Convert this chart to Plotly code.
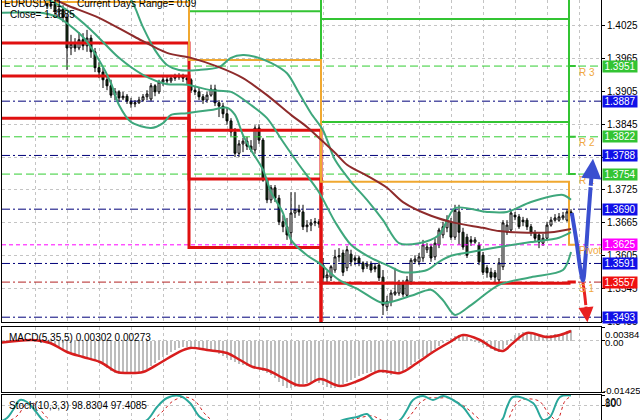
import plotly.graph_objects as go

# ---------------- data ----------------
bar_idx = list(range(11, 143))
open_ = [1.4068,1.4061,1.4064,1.4050,1.4055,1.4040,1.3984,1.3991,1.3984,1.3999,1.3988,1.4002,1.3977,1.3948,1.3940,1.3926,1.3915,1.3898,1.3904,1.3893,
         1.3896,1.3887,1.3882,1.3884,1.3889,1.3895,1.3891,1.3915,1.3904,1.3922,1.3926,1.3924,1.3929,1.3931,1.3933,1.3929,1.3926,1.3907,1.3904,1.3895,
         1.3889,1.3898,1.3909,1.3884,1.3878,1.3864,1.3851,1.3831,1.3792,1.3809,1.3814,1.3805,1.3798,1.3838,1.3816,1.3743,1.3707,1.3729,1.3710,1.3667,
         1.3658,1.3647,1.3683,1.3689,1.3685,1.3658,1.3661,1.3665,1.3667,1.3588,1.3565,1.3566,1.3579,1.3603,1.3610,1.3583,1.3608,1.3601,1.3601,1.3592,
         1.3586,1.3590,1.3585,1.3588,1.3566,1.3512,1.3521,1.3535,1.3537,1.3555,1.3533,1.3557,1.3595,1.3594,1.3601,1.3616,1.3621,1.3603,1.3625,1.3643,
         1.3656,1.3667,1.3639,1.3685,1.3648,1.3639,1.3634,1.3630,1.3625,1.3606,1.3583,1.3575,1.3574,1.3561,1.3585,1.3648,1.3652,1.3679,1.3676,1.3670,
         1.3670,1.3658,1.3647,1.3643,1.3628,1.3637,1.3661,1.3670,1.3670,1.3674,1.3670,1.3685]
high_ = [1.4071,1.4070,1.4068,1.4062,1.4062,1.4046,1.4008,1.4002,1.4013,1.4011,1.4017,1.4008,1.3984,1.3958,1.3948,1.3935,1.3926,1.3911,1.3907,1.3904,
         1.3900,1.3893,1.3889,1.3895,1.3900,1.3907,1.3920,1.3918,1.3926,1.3931,1.3931,1.3935,1.3937,1.3938,1.3937,1.3933,1.3929,1.3915,1.3911,1.3900,
         1.3904,1.3917,1.3917,1.3889,1.3884,1.3875,1.3856,1.3838,1.3816,1.3820,1.3822,1.3816,1.3843,1.3845,1.3820,1.3747,1.3734,1.3734,1.3716,1.3679,
         1.3674,1.3721,1.3721,1.3698,1.3698,1.3670,1.3672,1.3674,1.3672,1.3601,1.3577,1.3588,1.3616,1.3619,1.3616,1.3623,1.3616,1.3606,1.3605,1.3595,
         1.3595,1.3595,1.3590,1.3594,1.3579,1.3532,1.3543,1.3583,1.3561,1.3561,1.3568,1.3601,1.3606,1.3610,1.3634,1.3628,1.3627,1.3637,1.3656,1.3667,
         1.3679,1.3674,1.3698,1.3698,1.3656,1.3645,1.3641,1.3639,1.3630,1.3612,1.3588,1.3583,1.3579,1.3601,1.3670,1.3670,1.3689,1.3685,1.3681,1.3676,
         1.3674,1.3663,1.3652,1.3648,1.3645,1.3667,1.3676,1.3681,1.3683,1.3685,1.3690,1.3690]
low_ = [1.4055,1.4055,1.4044,1.4039,1.4031,1.3944,1.3971,1.3977,1.3980,1.3980,1.3977,1.3966,1.3940,1.3929,1.3911,1.3907,1.3893,1.3889,1.3886,1.3889,
        1.3882,1.3875,1.3876,1.3882,1.3886,1.3889,1.3887,1.3896,1.3900,1.3915,1.3918,1.3920,1.3924,1.3926,1.3922,1.3918,1.3902,1.3898,1.3889,1.3882,
        1.3884,1.3895,1.3878,1.3858,1.3856,1.3844,1.3823,1.3785,1.3785,1.3794,1.3798,1.3794,1.3791,1.3809,1.3740,1.3701,1.3701,1.3703,1.3661,1.3648,
        1.3634,1.3625,1.3674,1.3678,1.3652,1.3648,1.3650,1.3659,1.3656,1.3557,1.3555,1.3559,1.3574,1.3594,1.3568,1.3577,1.3586,1.3588,1.3586,1.3575,
        1.3581,1.3574,1.3575,1.3559,1.3497,1.3504,1.3513,1.3532,1.3532,1.3530,1.3528,1.3552,1.3590,1.3588,1.3594,1.3610,1.3594,1.3597,1.3619,1.3637,
        1.3648,1.3634,1.3634,1.3625,1.3616,1.3601,1.3623,1.3627,1.3588,1.3570,1.3565,1.3561,1.3557,1.3555,1.3579,1.3643,1.3648,1.3670,1.3654,1.3659,
        1.3652,1.3641,1.3632,1.3619,1.3623,1.3634,1.3658,1.3667,1.3667,1.3670,1.3667,1.3678]
close_ = [1.4061,1.4064,1.4050,1.4055,1.4040,1.3984,1.3991,1.3984,1.3999,1.3988,1.4002,1.3977,1.3948,1.3940,1.3926,1.3915,1.3898,1.3904,1.3893,1.3896,
          1.3887,1.3882,1.3884,1.3889,1.3895,1.3900,1.3915,1.3904,1.3922,1.3926,1.3924,1.3929,1.3931,1.3933,1.3929,1.3926,1.3907,1.3904,1.3895,1.3889,
          1.3898,1.3909,1.3884,1.3878,1.3864,1.3851,1.3831,1.3792,1.3809,1.3814,1.3805,1.3798,1.3838,1.3816,1.3743,1.3707,1.3729,1.3710,1.3667,1.3658,
          1.3643,1.3683,1.3689,1.3685,1.3658,1.3661,1.3665,1.3667,1.3663,1.3565,1.3570,1.3585,1.3603,1.3605,1.3575,1.3616,1.3594,1.3597,1.3592,1.3581,
          1.3590,1.3579,1.3581,1.3565,1.3515,1.3522,1.3537,1.3539,1.3555,1.3535,1.3561,1.3597,1.3599,1.3603,1.3625,1.3621,1.3601,1.3628,1.3652,1.3658,
          1.3670,1.3639,1.3688,1.3648,1.3621,1.3606,1.3630,1.3634,1.3594,1.3575,1.3574,1.3566,1.3566,1.3592,1.3665,1.3661,1.3683,1.3676,1.3658,1.3667,
          1.3658,1.3647,1.3637,1.3630,1.3637,1.3661,1.3670,1.3674,1.3676,1.3678,1.3685,1.3681]

bb_upper_x = [29,32,35,38,41,44,49,54,57,60,63,67,71,74,77,80,83,87,91,95,99,104,109,113,121,126,132,140,142]
bb_upper_y = [1.4090,1.4072,1.4022,1.3980,1.3953,1.3944,1.3944,1.3949,1.3966,1.3971,1.3968,1.3957,1.3938,1.3902,1.3865,1.3834,
              1.3780,1.3740,1.3707,1.3670,1.3628,1.3628,1.3643,1.3692,1.3685,1.3685,1.3703,1.3716,1.3707]
bb_mid_x = [9,16,22,29,35,41,46,52,57,62,66,70,74,79,83,87,92,96,100,106,109,112,117,124,132,139,142]
bb_mid_y = [1.4081,1.4053,1.4017,1.3966,1.3935,1.3918,1.3917,1.3907,1.3904,1.3880,1.3856,1.3813,1.3771,1.3721,1.3667,1.3625,
            1.3601,1.3588,1.3575,1.3579,1.3594,1.3605,1.3612,1.3621,1.3630,1.3638,1.3648]
bb_lower_x = [-1,10,14,20,24,27,29,32,37,40,42,46,52,56,58,60,62,65,67,70,72,76,79,84,89,95,102,107,110,113,117,124,132,140,142]
bb_lower_y = [1.4048,1.4048,1.4039,1.4004,1.3962,1.3920,1.3880,1.3849,1.3838,1.3847,1.3862,1.3865,1.3871,1.3875,1.3862,1.3825,
              1.3798,1.3762,1.3721,1.3683,1.3634,1.3606,1.3592,1.3561,1.3543,1.3519,1.3532,1.3543,1.3524,1.3497,1.3515,1.3552,
              1.3566,1.3579,1.3612]
ma_x = [5,13,16,24,33,41,47,54,60,66,72,76,79,83,86,91,96,100,107,113,120,124,133,137,142]
ma_y = [1.4095,1.4072,1.4062,1.4039,1.4004,1.3975,1.3966,1.3949,1.3929,1.3898,1.3862,1.3840,1.3820,1.3793,1.3771,1.3751,1.3729,
        1.3703,1.3678,1.3665,1.3656,1.3650,1.3647,1.3648,1.3654]

# daily pivot levels (4 days), day start positions on the bar axis
day_start = [-0.25, 46.5, 79.5, 141.5, 143.2]
piv_P = [1.4068, 1.3962, 1.3740, 1.3625]
piv_R1 = [1.4125, 1.4051, 1.3849, 1.3754]
piv_R2 = [1.4190, 1.4140, 1.4037, 1.3822]
piv_R3 = [1.4250, 1.4210, 1.4160, 1.3951]
piv_S1 = [1.3993, 1.3834, 1.3555, 1.3557]
piv_S2 = [1.3933, 1.3745, 1.3420, 1.3429]
piv_S3 = [1.3856, 1.3620, 1.3290, 1.3300]

# current-day level lines (price, kind)
level_prices = [1.3951, 1.3887, 1.3822, 1.3788, 1.3754, 1.3690, 1.3625, 1.3591, 1.3557, 1.3493]
level_kinds = ["R", "M", "R", "M", "R", "M", "P", "M", "S", "M"]
level_tags = [("R 3", 1.3951), ("R 2", 1.3822), ("R 1", 1.3754), ("Pivot", 1.3625), ("S 1", 1.3557)]

price_ticks = [1.4025, 1.3965, 1.3905, 1.3845, 1.3785, 1.3725, 1.3665, 1.3605, 1.3545, 1.3485]

# projection arrows
blue_x = [142.2, 143.4, 144.4, 145.0, 145.6, 146.3, 146.9]
blue_y = [1.3683, 1.3630, 1.3578, 1.3560, 1.3600, 1.3672, 1.3730]
blue_head = (147.5, 1.3782)
red_x = [145.0, 145.4, 145.7]
red_y = [1.3556, 1.3535, 1.3515]
red_head = (146.1, 1.3484)

# MACD(5,35,5)
macd_hist = [-0.00006,-0.00006,0.00008,0.00022,0.00022,0.00022,0.00022,0.00008,-0.00006,-0.00006,
             -0.00020,-0.00033,-0.00061,-0.00117,-0.00173,-0.00228,-0.00284,-0.00340,-0.00395,-0.00451,
             -0.00479,-0.00507,-0.00534,-0.00562,-0.00618,-0.00674,-0.00757,-0.00841,-0.00896,-0.00924,
             -0.00924,-0.00924,-0.00896,-0.00896,-0.00868,-0.00841,-0.00785,-0.00701,-0.00618,-0.00534,
             -0.00451,-0.00395,-0.00312,-0.00256,-0.00200,-0.00173,-0.00173,-0.00200,-0.00200,-0.00228,
             -0.00256,-0.00256,-0.00284,-0.00312,-0.00367,-0.00423,-0.00479,-0.00534,-0.00590,-0.00646,
             -0.00674,-0.00701,-0.00729,-0.00757,-0.00785,-0.00841,-0.00896,-0.00952,-0.01035,-0.01147,
             -0.01258,-0.01314,-0.01314,-0.01286,-0.01258,-0.01203,-0.01175,-0.01147,-0.01147,-0.01175,
             -0.01230,-0.01286,-0.01314,-0.01314,-0.01258,-0.01203,-0.01147,-0.01091,-0.01035,-0.00980,
             -0.00924,-0.00896,-0.00868,-0.00868,-0.00868,-0.00896,-0.00924,-0.00952,-0.00924,-0.00896,
             -0.00841,-0.00757,-0.00674,-0.00590,-0.00507,-0.00451,-0.00395,-0.00312,-0.00228,-0.00145,
             -0.00061,0.00022,0.00078,0.00134,0.00161,0.00161,0.00106,0.00050,-0.00006,-0.00061,
             -0.00117,-0.00173,-0.00228,-0.00284,-0.00312,-0.00228,-0.00117,0.00050,0.00161,0.00217,
             0.00245,0.00245,0.00217,0.00189,0.00161,0.00134,0.00161,0.00161,0.00189,0.00189,
             0.00217,0.00273,0.00302]
macd_sig_x = [-1,7.5,11.75,16,20,24.25,28.5,31,35,39.25,43.5,46.75,51,56,59.25,62.5,66,70,73.5,76,79.25,84.25,89.25,
              94.25,99.25,103.5,107.5,111.75,115,119.25,122.5,125,127.5,131,136,139.25,142]
macd_sig_y = [-0.00061,0.00022,-0.00061,-0.00312,-0.00451,-0.00590,-0.00868,-0.00896,-0.00868,-0.00618,-0.00340,
              -0.00200,-0.00256,-0.00340,-0.00534,-0.00729,-0.00813,-0.01035,-0.01230,-0.01230,-0.01063,-0.01258,
              -0.01091,-0.00841,-0.00896,-0.00618,-0.00312,-0.00033,0.00161,0.00022,-0.00200,-0.00284,-0.00061,
              0.00217,0.00106,0.00161,0.00273]
macd_top, macd_bottom = 0.00384, -0.01425

# Stochastic(10,3,3)
stoch_main_x = [-1,1,2.5,4.25,6,7.5,9.25,10,14,24,32,36,38.5,41,44.25,46.75,49.25,52,62,74,79,85,88.5,91,92.5,96,99.25,
                101,102.5,105,107.5,110,112.5,115,117.5,121,124.75,126,127.5,132.5,135,136.75,139.25,142]
stoch_main_y = [46,54,70,90,86,74,56,50,30,20,40,50,76,94,98,84,56,45,20,15,30,50,56,62,50,40,50,70,90,98,90,98,90,76,
                50,30,50,76,96,84,50,56,96,98.83]
stoch_sig_x = [-1,2,4,5.5,7.5,9,11,15,25,33,37,40,42.5,45.5,48,50.5,53,63,75,80,86,90,92.5,94,97,100.5,102.5,104.5,
               106.5,109,111.5,114,116.5,119,122,126,127.5,129.5,134,136.5,138.5,140.5,142]
stoch_sig_y = [44,50,62,80,84,74,55,32,22,36,48,68,88,96,88,62,46,22,16,28,46,56,58,52,42,48,66,86,94,94,94,84,70,52,
               32,48,72,90,88,62,50,88,97.41]

# ---------------- layout constants (pixels) ----------------
W, H = 640, 420
X_L, X_R = 2, 601
MAIN_T, MAIN_B = 0, 322
MACD_T, MACD_B = 327, 392
ST_T, ST_B = 395, 420
XR = [-0.25, 149.5]
FONT = "Liberation Sans, Arial, sans-serif"

def py(px):
    return 1 - px / H

fig = go.Figure()

# level lines
kind_style = {"R": ("#32cd32", "8px,4px"), "M": ("#00007a", "8px,3px,2px,3px"),
              "P": ("#ff00ff", "4px,3px"), "S": ("#b22222", "8px,3px,2px,3px")}
for p, k in zip(level_prices, level_kinds):
    c, d = kind_style[k]
    fig.add_trace(go.Scatter(x=XR, y=[p, p], mode="lines", line=dict(color=c, width=1, dash=d),
                             hoverinfo="skip", xaxis="x", yaxis="y"))

# pivot step lines
for vals, col, w in [(piv_R3, "#33c433", 2), (piv_R2, "#33c433", 2), (piv_R1, "#33c433", 2),
                     (piv_S1, "#e01010", 3), (piv_S2, "#e01010", 3), (piv_S3, "#e01010", 3),
                     (piv_P, "#f0a830", 2)]:
    fig.add_trace(go.Scatter(x=day_start, y=vals + [vals[-1]], mode="lines",
                             line=dict(color=col, width=w, shape="hv"), hoverinfo="skip",
                             xaxis="x", yaxis="y"))

# bollinger bands and MA
for xs, ys in [(bb_upper_x, bb_upper_y), (bb_mid_x, bb_mid_y), (bb_lower_x, bb_lower_y)]:
    fig.add_trace(go.Scatter(x=xs, y=ys, mode="lines", line=dict(color="#3ea77c", width=2, shape="spline", smoothing=0.8),
                             hoverinfo="skip", xaxis="x", yaxis="y"))
fig.add_trace(go.Scatter(x=ma_x, y=ma_y, mode="lines", line=dict(color="#8e2b2b", width=2, shape="spline", smoothing=0.8),
                         hoverinfo="skip", xaxis="x", yaxis="y"))

# candles
fig.add_trace(go.Candlestick(x=bar_idx, open=open_, high=high_, low=low_, close=close_,
                             increasing=dict(fillcolor="#ffffff", line=dict(color="#000000", width=1)),
                             decreasing=dict(fillcolor="#1b3d1b", line=dict(color="#000000", width=1)),
                             whiskerwidth=0, xaxis="x", yaxis="y", hoverinfo="skip"))

# projection arrows
fig.add_trace(go.Scatter(x=blue_x, y=blue_y, mode="lines", line=dict(color="#3a4fd0", width=4, shape="spline"),
                         hoverinfo="skip", xaxis="x", yaxis="y"))
fig.add_trace(go.Scatter(x=red_x, y=red_y, mode="lines", line=dict(color="#e82020", width=3, shape="spline"),
                         hoverinfo="skip", xaxis="x", yaxis="y"))

# MACD
fig.add_trace(go.Bar(x=list(range(len(macd_hist))), y=macd_hist, marker=dict(color="#bdbdbd", line=dict(width=0)),
                     width=0.5, xaxis="x2", yaxis="y2", hoverinfo="skip"))
fig.add_trace(go.Scatter(x=macd_sig_x, y=macd_sig_y, mode="lines", line=dict(color="#d81e1e", width=2.5, shape="spline"),
                         hoverinfo="skip", xaxis="x2", yaxis="y2"))

# Stochastic
fig.add_trace(go.Scatter(x=stoch_sig_x, y=stoch_sig_y, mode="lines", line=dict(color="#d02020", width=1, dash="dot", shape="spline"),
                         hoverinfo="skip", xaxis="x3", yaxis="y3"))
fig.add_trace(go.Scatter(x=stoch_main_x, y=stoch_main_y, mode="lines", line=dict(color="#2aa79b", width=2, shape="spline"),
                         hoverinfo="skip", xaxis="x3", yaxis="y3"))

xdom = [X_L / W, X_R / W]
xcommon = dict(range=XR, domain=xdom, showgrid=True, gridcolor="#c4c4c4", griddash="3px,3px", gridwidth=1,
               tick0=0, dtick=8, showticklabels=False, ticks="", zeroline=False, automargin=False,
               showline=True, linecolor="#000000", linewidth=1, mirror=True, fixedrange=True)
ycommon = dict(side="right", showgrid=True, gridcolor="#c4c4c4", griddash="3px,3px", gridwidth=1, zeroline=False,
               showline=True, linecolor="#000000", linewidth=1, mirror=True, ticks="outside", ticklen=3,
               automargin=False, tickcolor="#000000", fixedrange=True)

price_lo = 1.4025 - (MAIN_B - 25.5) / 5483
price_hi = 1.4025 + 25.5 / 5483

fig.update_layout(
    width=W, height=H, margin=dict(l=0, r=0, t=0, b=0, autoexpand=False),
    paper_bgcolor="#ffffff", plot_bgcolor="#ffffff", showlegend=False,
    bargap=0,
    xaxis=dict(anchor="y", rangeslider=dict(visible=False), **xcommon),
    xaxis2=dict(anchor="y2", **xcommon),
    xaxis3=dict(anchor="y3", **xcommon),
    yaxis=dict(anchor="x", domain=[py(MAIN_B), py(MAIN_T)], range=[price_lo, price_hi],
               tickvals=price_ticks, ticktext=[f"{v:.4f}" for v in price_ticks],
               tickfont=dict(family=FONT, size=10, color="#000000"), **ycommon),
    yaxis2=dict(anchor="x2", domain=[py(MACD_B), py(MACD_T)], range=[macd_bottom, macd_top],
                tickvals=[macd_top, 0, macd_bottom], showticklabels=False, **ycommon),
    yaxis3=dict(anchor="x3", domain=[py(ST_B), py(ST_T)], range=[50, 100],
                tickvals=[100, 80], showticklabels=False, **ycommon),
)

ann = []
box_col = {"R": "#33c433", "M": "#1010e8", "P": "#ff00ff", "S": "#f01010"}
for p, k in zip(level_prices, level_kinds):
    ann.append(dict(xref="paper", yref="y", x=602 / W, y=p, xanchor="left", yanchor="middle",
                    text=f"{p:.4f}", showarrow=False, bgcolor=box_col[k], width=34, height=11, borderpad=0,
                    font=dict(family=FONT, size=10, color="#ffffff")))
for t, p in level_tags:
    ann.append(dict(xref="x", yref="y", x=143.6, y=p, xanchor="left", yanchor="middle", yshift=-6,
                    text=t, showarrow=False, font=dict(family=FONT, size=10, color="#f0a840")))
# arrow heads
ann.append(dict(xref="x", yref="y", axref="x", ayref="y", x=blue_head[0], y=blue_head[1], ax=blue_x[-1], ay=blue_y[-1],
                text="", showarrow=True, arrowhead=2, arrowsize=1, arrowwidth=4, arrowcolor="#3a4fd0"))
ann.append(dict(xref="x", yref="y", axref="x", ayref="y", x=red_head[0], y=red_head[1], ax=red_x[-1], ay=red_y[-1],
                text="", showarrow=True, arrowhead=2, arrowsize=1, arrowwidth=3, arrowcolor="#e82020"))
# texts
def txt(s, x, y, size=10, anchor="left"):
    return dict(xref="paper", yref="paper", x=x / W, y=py(y), xanchor=anchor, yanchor="middle", text=s,
                showarrow=False, font=dict(family=FONT, size=size, color="#000000"))
ann += [txt("EURUSD,H1", 2, 4), txt("Current Days Range= 0.09", 75, 4), txt("Close= 1.3685", 8, 15),
        txt("MACD(5,35,5) 0.00302 0.00273", 7, 337), txt("Stoch(10,3,3) 98.8304 97.4085", 7, 405),
        txt("0.00384", 603, 334, 9.5), txt("0.00", 603, 342, 9.5), txt("-0.01425", 601, 390, 9.5),
        txt("100", 603, 402), txt("80", 603, 403)]
fig.update_layout(annotations=ann)

fig.write_html("out.html", config={"displayModeBar": False},
               post_script="document.body.style.margin='0';document.body.style.overflow='hidden';")
